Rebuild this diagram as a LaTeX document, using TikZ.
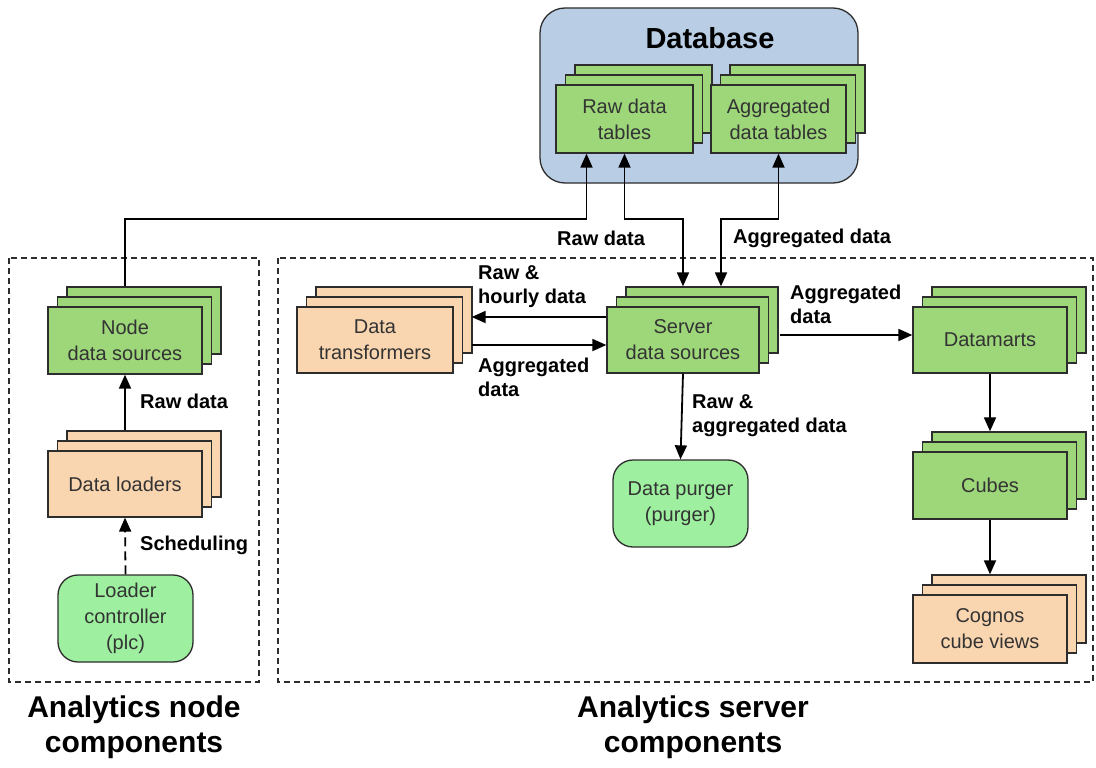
\documentclass[tikz,border=0pt]{standalone}
\usepackage{fontspec}
\setmainfont{Liberation Sans}
\usetikzlibrary{shadows,arrows.meta}

\definecolor{dsgreen}{RGB}{157,215,122}
\definecolor{procpeach}{RGB}{250,214,176}
\definecolor{daemongreen}{RGB}{158,240,160}
\definecolor{dbblue}{RGB}{185,205,228}
\definecolor{edgegray}{RGB}{45,45,45}

\begin{document}
\begin{tikzpicture}[
		x=1pt,y=-1pt,
		every node/.style={font=\fontsize{20}{26}\selectfont,align=center,inner sep=0pt},
		stack/.style={draw=edgegray,line width=1.3pt,fill=#1,text=black!80,
			copy shadow={shadow xshift=19pt,shadow yshift=20pt,fill=#1,draw=edgegray,line width=1.3pt},
			copy shadow={shadow xshift=9.5pt,shadow yshift=10pt,fill=#1,draw=edgegray,line width=1.3pt}},
		daemon/.style={draw=edgegray,line width=1.3pt,fill=daemongreen,rounded corners=20pt,
			minimum width=135pt,minimum height=87pt,text=black!80},
		flow/.style={>={Triangle[length=14pt,width=12pt]},->,line width=1.8pt},
		lbl/.style={font=\fontsize{20}{24}\selectfont\bfseries,align=left,anchor=west},
		group/.style={line width=1.2pt,dash pattern=on 6pt off 4pt,draw=edgegray},
		title/.style={font=\fontsize{30}{35}\selectfont\bfseries}
		]
		\useasboundingbox (0,0) rectangle (1096,768);

		% database
		\node[draw=edgegray,fill=dbblue,rounded corners=25pt,line width=1.3pt,
			minimum width=318pt,minimum height=175pt] (db) at (699,95.5) {};
		\node[font=\fontsize{29}{32}\selectfont\bfseries] (dbtitle) at (710,38) {Database};
		\node[stack=dsgreen,minimum width=137pt,minimum height=68pt] (rawtab) at (624.5,119) {Raw data\\tables};
		\node[stack=dsgreen,minimum width=135pt,minimum height=68pt] (aggtab) at (778.5,119) {Aggregated\\data tables};

		% group frames
		\draw[group] (9,258) rectangle (259,682);
		\draw[group] (278,258) rectangle (1093,682);

		% analytics node
		\node[stack=dsgreen,minimum width=154pt,minimum height=67pt] (nds) at (125,340.5) {Node\\data sources};
		\node[stack=procpeach,minimum width=154pt,minimum height=66pt] (loaders) at (125,484) {Data loaders};
		\node[daemon] (plc) at (125.5,618.5) {Loader\\controller\\(plc)};

		% analytics server
		\node[stack=procpeach,minimum width=156pt,minimum height=66pt] (trans) at (375,340) {Data\\transformers};
		\node[stack=dsgreen,minimum width=152pt,minimum height=66pt] (server) at (683,340) {Server\\data sources};
		\node[daemon] (purger) at (680.5,503.5) {Data purger\\(purger)};
		\node[stack=dsgreen,minimum width=154pt,minimum height=66pt] (dmarts) at (990,340) {Datamarts};
		\node[stack=dsgreen,minimum width=154pt,minimum height=67pt] (cubes) at (990,485.5) {Cubes};
		\node[stack=procpeach,minimum width=154pt,minimum height=68pt] (cognos) at (990,629) {Cognos\\cube views};

		\coordinate (bus) at (0,219);

		% connectors
		\draw[flow] ([yshift=20pt]loaders.north) -- (nds.south);
		\draw[flow,dash pattern=on 9pt off 5pt] (plc.north) -- (loaders.south);
		\draw[flow] ([yshift=20pt]nds.north) |- ([xshift=-38pt]rawtab.south |- bus) -- ([xshift=-38pt]rawtab.south);
		\draw[flow,<->] (rawtab.south) |- (server.north |- bus) -- ([yshift=20pt]server.north);
		\draw[flow,<->] (aggtab.south) |- ([xshift=38pt]server.north |- bus) -- ([xshift=38pt,yshift=20pt]server.north);
		\draw[flow] ([yshift=23pt]server.west) -- ([xshift=18pt,yshift=23pt]trans.east);
		\draw[flow] ([xshift=18pt,yshift=-5pt]trans.east) -- ([yshift=-5pt]server.west);
		\draw[flow] ([xshift=20pt,yshift=5pt]server.east) -- ([yshift=5pt]dmarts.west);
		\draw[flow] (server.south) -- (purger.north);
		\draw[flow] (dmarts.south) -- ([yshift=20pt]cubes.north);
		\draw[flow] (cubes.south) -- ([yshift=20pt]cognos.north);

		% connector labels
		\node[lbl] (lraw) at (140,401) {Raw data};
		\node[lbl] (lsched) at (140,545) {Scheduling};
		\node[lbl] (lrawdb) at (557,238) {Raw data};
		\node[lbl] (laggdb) at (733,238) {Aggregated data};
		\node[lbl] (lhourly) at (478,287) {Raw \&\\hourly data};
		\node[lbl] (laggtr) at (478,377) {Aggregated\\data};
		\node[lbl] (laggdm) at (790,304) {Aggregated\\data};
		\node[lbl] (lpurge) at (692,416) {Raw \&\\aggregated data};

		% group titles
		\node[title] (tnode) at (134,727) {Analytics node\\components};
		\node[title] (tserver) at (693,727) {Analytics server\\components};
	\end{tikzpicture}
\end{document}
